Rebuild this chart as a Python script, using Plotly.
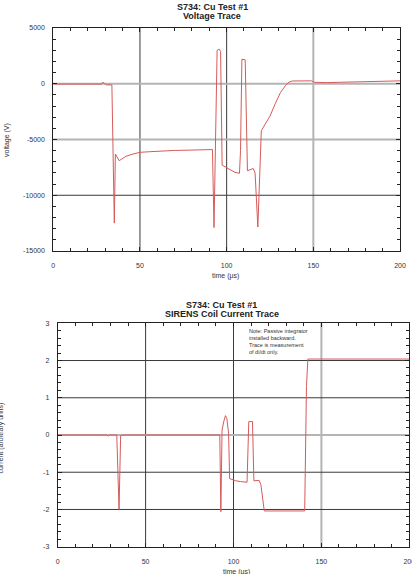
import plotly.graph_objects as go

# ---------------- data ----------------
time_v = [0, 10, 20, 28, 28.6, 29.5, 30.8, 33.8, 35.2, 35.8, 38, 42, 46, 50, 55, 60, 70, 80, 90, 91.8,
          92.7, 94.5, 95.7, 96.5, 97.4, 100, 104.8, 107.4, 108.0, 108.8, 110.7, 112.0, 115.3, 116.4,
          118.0, 120.0, 122, 125, 128, 131, 134, 136, 138, 145, 149, 150.5, 153, 156, 158, 165, 175,
          185, 195, 200]
voltage = [-30, -30, -30, -30, 150, 0, -100, -100, -12500, -6300, -6900, -6500, -6300, -6150, -6100,
           -6040, -5980, -5950, -5920, -5900, -12900, 3000, 3100, 2900, -7300, -7550, -7950, -8030,
           -6000, 2200, 2150, -7800, -7600, -8000, -12850, -4200, -3700, -2900, -1800, -800, -150,
           150, 250, 270, 260, 130, 120, 60, 100, 130, 160, 180, 200, 260]

time_i = [0, 28, 28.8, 29.5, 33.6, 34.9, 35.8, 37, 40, 92.2, 92.8, 93.5, 94.4, 95.4, 96.2, 97.2, 97.8,
          101.3, 104, 107.7, 108.7, 110.8, 111.6, 114.6, 115.6, 117.5, 140.5, 141.5, 142.3, 200]
current = [0, 0, -0.03, 0, 0, -2.0, -0.02, 0, 0, 0, -2.06, 0.13, 0.35, 0.52, 0.45, 0.05, -1.17,
           -1.23, -1.25, -1.27, 0.36, 0.36, -1.23, -1.22, -1.34, -2.04, -2.04, 1.3, 2.04, 2.04]

x_ticks = [0, 50, 100, 150, 200]
x_ticklabels = ["0", "50", "100", "150", "200"]
v_ticks = [-15000, -10000, -5000, 0, 5000]
v_ticklabels = ["-15000", "-10000", "-5000", "0", "5000"]
i_ticks = [-3, -2, -1, 0, 1, 2, 3]
i_ticklabels = ["-3", "-2", "-1", "0", "1", "2", "3"]

top_xgrid = [50, 100, 150]
top_ygrid = [0, -5000, -10000]
bot_xgrid = [50, 100, 150]
bot_ygrid = [2, 1, 0, -1, -2]

# ---------------- styling ----------------
W, H = 412, 574
LINE = "#d65a5a"
FONT = "Liberation Sans, Arial, sans-serif"
DARK = dict(color="#3a3a3a", width=1)
LIGHT = dict(color="#b4b4b4", width=2)
top_xgrid_style = [DARK, DARK, LIGHT]
top_ygrid_style = [LIGHT, LIGHT, DARK]
bot_xgrid_style = [DARK, DARK, LIGHT]
bot_ygrid_style = [DARK, DARK, LIGHT, DARK, DARK]


def px_x(p):
    return p / W


def px_y(p):
    return 1 - p / H


fig = go.Figure()
fig.add_trace(go.Scatter(x=time_v, y=voltage, mode="lines", line=dict(color=LINE, width=1),
                         xaxis="x", yaxis="y", showlegend=False, hoverinfo="skip"))
fig.add_trace(go.Scatter(x=time_i, y=current, mode="lines", line=dict(color=LINE, width=1),
                         xaxis="x2", yaxis="y2", showlegend=False, hoverinfo="skip"))

common = dict(showline=True, linecolor="#222", linewidth=1, mirror="ticks", ticks="inside",
              ticklen=4, tickcolor="#222", showgrid=False, zeroline=False, automargin=False,
              ticklabeloverflow="allow",
              tickfont=dict(family=FONT, size=7, color="#333"))

fig.update_layout(
    width=W, height=H, margin=dict(l=0, r=0, t=0, b=0, autoexpand=False),
    paper_bgcolor="white", plot_bgcolor="white", showlegend=False,
    xaxis=dict(domain=[px_x(53.3), px_x(400)], range=[0, 200], anchor="y",
               tickvals=x_ticks, ticktext=x_ticklabels, ticklabelstandoff=8,
               minor=dict(dtick=10, ticks="inside", ticklen=3, tickcolor="#222"), **common),
    yaxis=dict(domain=[px_y(251), px_y(28)], range=[-15000, 5000], anchor="x",
               tickvals=v_ticks, ticktext=v_ticklabels, ticklabelstandoff=6,
               minor=dict(dtick=1000, ticks="inside", ticklen=3, tickcolor="#222"), **common),
    xaxis2=dict(domain=[px_x(57.7), px_x(409.3)], range=[0, 200], anchor="y2",
                tickvals=x_ticks, ticktext=x_ticklabels, ticklabelstandoff=8,
                minor=dict(dtick=10, ticks="inside", ticklen=3, tickcolor="#222"), **common),
    yaxis2=dict(domain=[px_y(546.7), px_y(323.3)], range=[-3, 3], anchor="x2",
                tickvals=i_ticks, ticktext=i_ticklabels, ticklabelstandoff=6,
                minor=dict(dtick=0.2, ticks="inside", ticklen=3, tickcolor="#222"), **common),
)

shapes = []
for xv, st in zip(top_xgrid, top_xgrid_style):
    shapes.append(dict(type="line", xref="x", yref="y domain", x0=xv, x1=xv, y0=0, y1=1,
                       line=st, layer="below"))
for yv, st in zip(top_ygrid, top_ygrid_style):
    shapes.append(dict(type="line", xref="x domain", yref="y", x0=0, x1=1, y0=yv, y1=yv,
                       line=st, layer="below"))
for xv, st in zip(bot_xgrid, bot_xgrid_style):
    shapes.append(dict(type="line", xref="x2", yref="y2 domain", x0=xv, x1=xv, y0=0, y1=1,
                       line=st, layer="below"))
for yv, st in zip(bot_ygrid, bot_ygrid_style):
    shapes.append(dict(type="line", xref="x2 domain", yref="y2", x0=0, x1=1, y0=yv, y1=yv,
                       line=st, layer="below"))
fig.update_layout(shapes=shapes)

tfont = dict(family=FONT, size=9, color="#222")
lfont = dict(family=FONT, size=7, color="#333")
ann = [
    dict(text="<b>S734: Cu Test #1</b>", x=px_x(212), y=px_y(6.7), font=tfont),
    dict(text="<b>Voltage Trace</b>", x=px_x(212), y=px_y(16), font=tfont),
    dict(text="<b>S734: Cu Test #1</b>", x=px_x(221.5), y=px_y(305), font=tfont),
    dict(text="<b>SIRENS Coil Current Trace</b>", x=px_x(221.5), y=px_y(314), font=tfont),
    dict(text="time (µs)", x=px_x(225), y=px_y(276), font=lfont),
    dict(text="time (µs)", x=px_x(236), y=px_y(571.5), font=lfont),
    dict(text="voltage (V)", x=px_x(7), y=px_y(140), font=lfont, textangle=-90),
    dict(text="current (arbitrary units)", x=px_x(0.5), y=px_y(438), font=lfont, textangle=-90),
]
for a in ann:
    a.update(xref="paper", yref="paper", showarrow=False, xanchor="center", yanchor="middle")
ann.append(dict(text="Note: Passive integrator<br>installed backward.<br>Trace is measurement<br>of di/dt only.",
                x=107.6, y=px_y(326), xref="x2", yref="paper", xanchor="left", yanchor="top",
                align="left", showarrow=False, font=dict(family=FONT, size=5.5, color="#333")))
fig.update_layout(annotations=ann)

fig.write_html("out.html")
